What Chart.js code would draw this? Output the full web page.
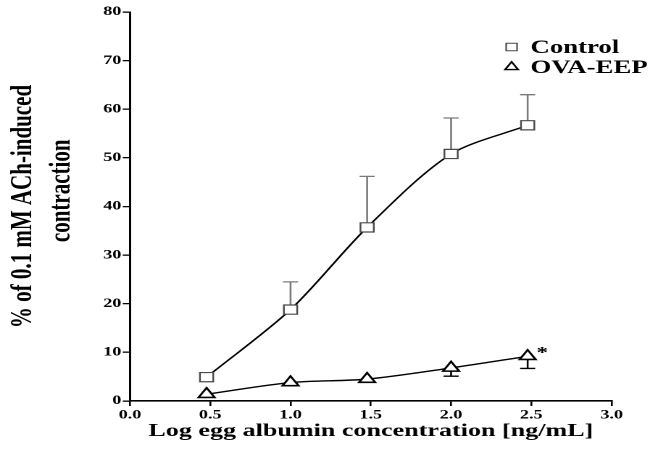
<!DOCTYPE html>
<html>
<head>
<meta charset="utf-8">
<script src="https://cdn.jsdelivr.net/npm/chart.js@4.4.1/dist/chart.umd.min.js"></script>
<style>
  html, body { margin: 0; padding: 0; background: #fff; }
  #wrap { width: 658px; height: 451px; overflow: hidden; position: relative; }
  /* the original figure is stretched sideways, so draw narrow and stretch */
  #chart { position: absolute; left: 0; top: 0; width: 454px; height: 451px; transform: scaleX(1.4493); transform-origin: 0 0; }
</style>
</head>
<body>
<div id="wrap"><canvas id="chart" width="454" height="451"></canvas></div>
<script>
// log egg albumin concentration (3, 10, 30, 100, 300 ng/mL)
const logConc = [0.477, 1.0, 1.477, 2.0, 2.477];

const controlMean = [4.9, 18.8, 35.7, 50.8, 56.7];
const controlErr  = [0, 5.7, 10.5, 7.4, 6.3];

const ovaMean = [1.4, 3.8, 4.5, 6.8, 9.2];
const ovaErr  = [0, 0, 0.6, 1.7, 2.5];

const seriesNames = ['Control', 'OVA-EEP'];
const sigMark = '*';
const sigIndex = 4;

const xTitle = 'Log egg albumin concentration [ng/mL]';
const yTitle = ['% of 0.1 mM ACh-induced', '      contraction'];

const SERIF = '"Liberation Serif", "Times New Roman", serif';

const toPoints = (ys) => logConc.map((x, i) => ({ x, y: ys[i] }));

// ---- error bars (one-sided) ----
const errorBars = {
    id: 'errorBars',
    beforeDatasetsDraw(chart) {
        const ctx = chart.ctx;
        const yScale = chart.scales.y;
        chart.data.datasets.forEach((ds, i) => {
            if (!ds.errors) return;
            const meta = chart.getDatasetMeta(i);
            ctx.save();
            ctx.strokeStyle = ds.errorColor;
            ctx.lineWidth = 1.3;
            meta.data.forEach((pt, j) => {
                const e = ds.errors[j];
                if (!e) return;
                const yEnd = yScale.getPixelForValue(ds.data[j].y + ds.errorDir * e);
                ctx.beginPath();
                ctx.moveTo(pt.x, pt.y);
                ctx.lineTo(pt.x, yEnd);
                ctx.moveTo(pt.x - 5.2, yEnd);
                ctx.lineTo(pt.x + 5.2, yEnd);
                ctx.stroke();
            });
            ctx.restore();
        });
    }
};

// ---- legend in the top right of the plot ----
const cornerLegend = {
    id: 'cornerLegend',
    afterDraw(chart) {
        const ctx = chart.ctx;
        const area = chart.chartArea;
        const x0 = area.right - 69;
        const rows = [area.top + 35, area.top + 55];
        ctx.save();
        chart.data.datasets.forEach((ds, i) => {
            const y = rows[i];
            ctx.fillStyle = '#fff';
            ctx.strokeStyle = ds.pointBorderColor;
            ctx.lineWidth = i === 0 ? 1.1 : 1.4;
            Chart.helpers.drawPoint(ctx, {
                pointStyle: ds.pointStyle,
                radius: i === 0 ? 5.3 : 5.2,
                rotation: 0,
                borderWidth: ctx.lineWidth
            }, x0, y);
            ctx.fillStyle = '#000';
            ctx.font = `bold 18.5px ${SERIF}`;
            ctx.textBaseline = 'middle';
            ctx.textAlign = 'left';
            ctx.fillText(ds.label, x0 + 13, y + 1);
        });
        ctx.restore();
    }
};

// ---- significance mark ----
const sigLabel = {
    id: 'sigLabel',
    afterDatasetsDraw(chart) {
        const pt = chart.getDatasetMeta(1).data[sigIndex];
        if (!pt) return;
        const ctx = chart.ctx;
        ctx.save();
        ctx.fillStyle = '#000';
        ctx.font = `bold 16px ${SERIF}`;
        ctx.textAlign = 'left';
        ctx.textBaseline = 'alphabetic';
        ctx.fillText(sigMark, pt.x + 6, pt.y + 1);
        ctx.restore();
    }
};

const axisGrid = {
    drawOnChartArea: false,
    drawTicks: true,
    tickLength: 5,
    color: '#000',
    lineWidth: 1.3
};

new Chart(document.getElementById('chart'), {
    type: 'line',
    data: {
        datasets: [
            {
                label: seriesNames[0],
                data: toPoints(controlMean),
                errors: controlErr,
                errorDir: 1,
                errorColor: '#7a7a7a',
                borderColor: '#000',
                borderWidth: 1.4,
                tension: 0.3,
                fill: false,
                pointStyle: 'rect',
                pointRadius: 6.5,
                pointBackgroundColor: '#fff',
                pointBorderColor: '#4a4a4a',
                pointBorderWidth: 1.2
            },
            {
                label: seriesNames[1],
                data: toPoints(ovaMean),
                errors: ovaErr,
                errorDir: -1,
                errorColor: '#000',
                borderColor: '#000',
                borderWidth: 1.4,
                tension: 0.3,
                fill: false,
                pointStyle: 'triangle',
                pointRadius: 6.4,
                pointBackgroundColor: '#fff',
                pointBorderColor: '#000',
                pointBorderWidth: 1.6
            }
        ]
    },
    options: {
        responsive: false,
        animation: false,
        devicePixelRatio: 2,
        layout: { padding: { top: 12, right: 32, left: 0, bottom: 0 } },
        plugins: {
            legend: { display: false },
            tooltip: { enabled: false }
        },
        scales: {
            x: {
                type: 'linear',
                min: 0,
                max: 3,
                ticks: {
                    stepSize: 0.5,
                    callback: v => v.toFixed(1),
                    color: '#000',
                    padding: 2,
                    maxRotation: 0,
                    font: { family: SERIF, weight: 'bold', size: 12.5 }
                },
                grid: axisGrid,
                border: { color: '#000', width: 1.6 },
                title: {
                    display: true,
                    text: xTitle,
                    color: '#000',
                    font: { family: SERIF, weight: 'bold', size: 18 },
                    padding: { top: 0, bottom: 9 }
                },
                afterFit(scale) { scale.height = 50; }
            },
            y: {
                min: 0,
                max: 80,
                ticks: {
                    stepSize: 10,
                    color: '#000',
                    padding: 1,
                    font: { family: SERIF, weight: 'bold', size: 12.5 }
                },
                grid: axisGrid,
                border: { color: '#000', width: 1.5 },
                title: {
                    display: true,
                    text: yTitle,
                    color: '#000',
                    font: { family: SERIF, weight: 'bold', size: 21, lineHeight: 1.25 },
                    padding: { top: 3, bottom: 0 }
                },
                afterFit(scale) { scale.width = 89.7; }
            }
        }
    },
    plugins: [errorBars, cornerLegend, sigLabel]
});
</script>
</body>
</html>
